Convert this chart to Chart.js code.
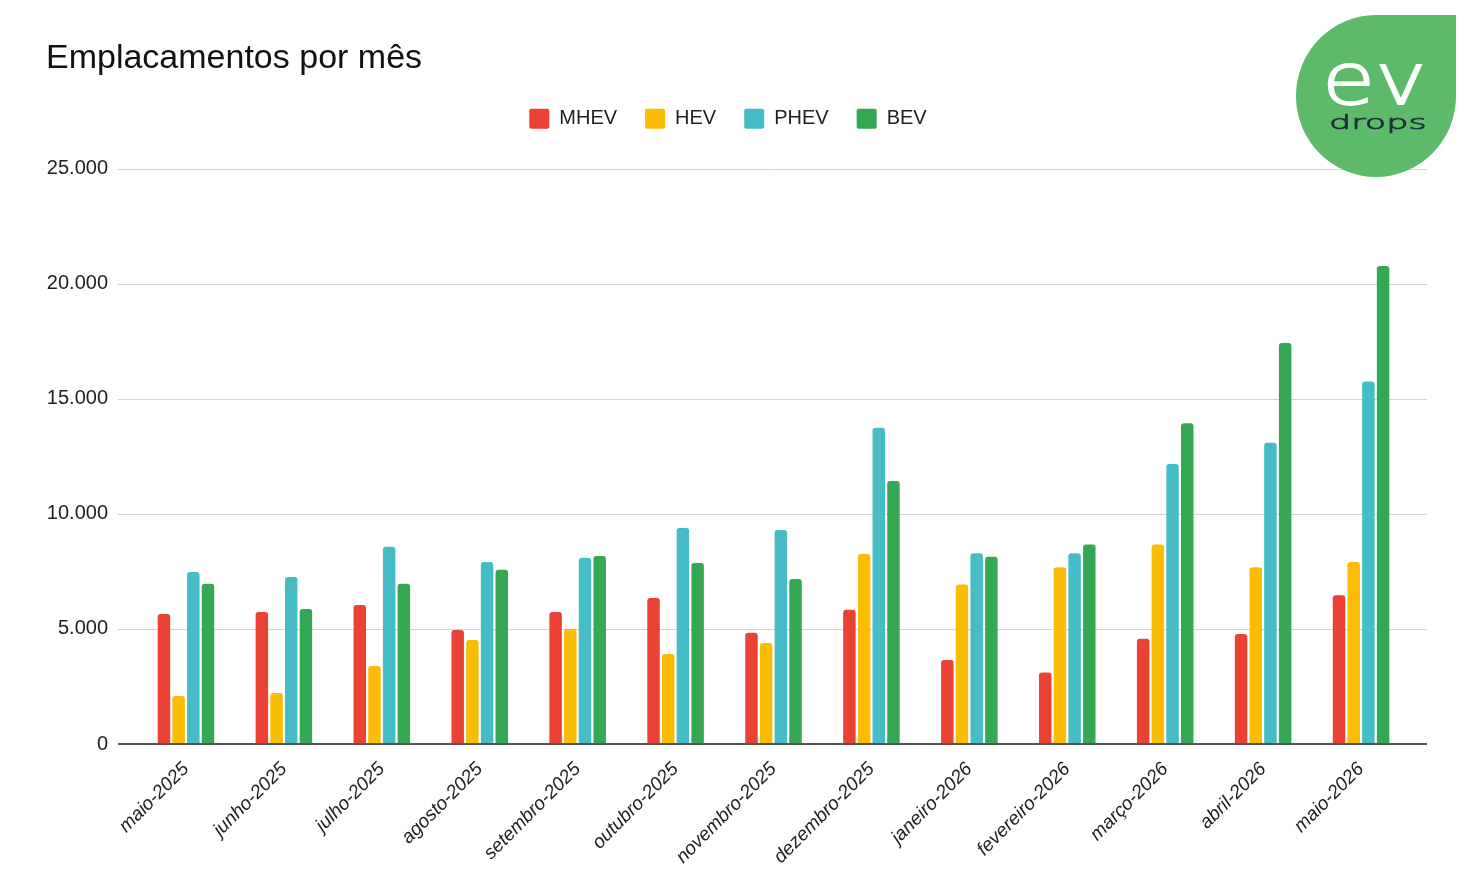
<!DOCTYPE html>
<html>
<head>
<meta charset="utf-8">
<script src="https://cdn.jsdelivr.net/npm/chart.js@4.4.1/dist/chart.umd.min.js"></script>
<style>
  body { margin: 0; background: #fff; }
  #wrap { position: relative; width: 1470px; height: 885px; }
  #logo {
    position: absolute; left: 1296px; top: 15px; width: 160px; height: 162px;
    background: #5cba6a; border-radius: 50% 0 50% 50%; overflow: hidden;
  }
  #logo span { position: absolute; display: block; line-height: 1; white-space: nowrap; transform-origin: 0 0; }
  #logo .ev {
    left: 26px; top: 22px;
    font: 200 72px "DejaVu Sans", sans-serif; color: #fff; transform: scaleX(1.2);
    -webkit-text-stroke: 1.8px #fff;
  }
  #logo .drops {
    left: 33px; top: 95px;
    font: 200 20px "DejaVu Sans", sans-serif; color: #1d2b3a; transform: scaleX(1.75);
    -webkit-text-stroke: 0.7px #1d2b3a;
  }
</style>
</head>
<body>
<div id="wrap">
  <canvas id="chart" width="1470" height="885"></canvas>
  <div id="logo"><span class="ev">ev</span><span class="drops">drops</span></div>
</div>
<script>
var months = ['maio-2025', 'junho-2025', 'julho-2025', 'agosto-2025', 'setembro-2025', 'outubro-2025',
  'novembro-2025', 'dezembro-2025', 'janeiro-2026', 'fevereiro-2026', 'março-2026', 'abril-2026', 'maio-2026'];

var mhev = [5650, 5740, 6040, 4960, 5740, 6350, 4830, 5830, 3650, 3110, 4570, 4780, 6460];
var hev  = [2090, 2220, 3390, 4520, 5000, 3910, 4390, 8260, 6930, 7680, 8670, 7680, 7910];
var phev = [7480, 7260, 8570, 7910, 8090, 9390, 9300, 13740, 8290, 8290, 12170, 13090, 15750];
var bev  = [6960, 5870, 6960, 7570, 8170, 7870, 7170, 11430, 8140, 8670, 13940, 17430, 20780];

var yTicks = [0, 5000, 10000, 15000, 20000, 25000];

function fmt(v) {
  return String(v).replace(/\B(?=(\d{3})+(?!\d))/g, '.');
}

Chart.defaults.font.family = '"Liberation Sans", Arial, sans-serif';
Chart.defaults.color = '#222';

// google sheets style gridlines: a bit wider than the plot area
var sheetGrid = {
  id: 'sheetGrid',
  beforeDatasetsDraw: function(chart) {
    var ctx = chart.ctx, y = chart.scales.y, a = chart.chartArea;
    ctx.save();
    ctx.strokeStyle = '#d4d4d4';
    ctx.lineWidth = 1;
    yTicks.forEach(function(v) {
      if (v === 0) return;
      var py = Math.round(y.getPixelForValue(v)) + 0.5;
      ctx.beginPath();
      ctx.moveTo(a.left - 19, py);
      ctx.lineTo(a.right + 17, py);
      ctx.stroke();
    });
    ctx.restore();
  },
  afterDatasetsDraw: function(chart) {
    var ctx = chart.ctx, y = chart.scales.y, a = chart.chartArea;
    var py = Math.round(y.getPixelForValue(0));
    ctx.save();
    ctx.strokeStyle = '#555';
    ctx.lineWidth = 2;
    ctx.beginPath();
    ctx.moveTo(a.left - 19, py);
    ctx.lineTo(a.right + 17, py);
    ctx.stroke();
    ctx.restore();
  }
};

// extra room between the legend and the plot
var legendGap = {
  id: 'legendGap',
  afterInit: function(chart) {
    var fit = chart.legend.fit;
    chart.legend.fit = function() {
      fit.apply(this, arguments);
      this.height += 30;
    };
  }
};

function ds(label, data, color) {
  return {
    label: label,
    data: data,
    backgroundColor: color,
    borderWidth: 0,
    borderRadius: 3,
    categoryPercentage: 0.6,
    barPercentage: 0.85
  };
}

new Chart(document.getElementById('chart'), {
  type: 'bar',
  data: {
    labels: months,
    datasets: [
      ds('MHEV', mhev, '#ea4335'),
      ds('HEV', hev, '#fbbc04'),
      ds('PHEV', phev, '#46bdc6'),
      ds('BEV', bev, '#34a853')
    ]
  },
  options: {
    responsive: false,
    animation: false,
    layout: { padding: { left: 46, right: 60, top: 0, bottom: 0 } },
    plugins: {
      title: {
        display: true,
        text: 'Emplacamentos por mês',
        align: 'start',
        color: '#111',
        font: { size: 34, weight: 'normal' },
        padding: { top: 38, bottom: 2 }
      },
      legend: {
        display: true,
        position: 'top',
        labels: {
          boxWidth: 20,
          boxHeight: 20,
          useBorderRadius: true,
          borderRadius: 2,
          padding: 28,
          color: '#222',
          font: { size: 20 }
        }
      },
      tooltip: { enabled: false }
    },
    scales: {
      x: {
        grid: { display: false },
        border: { display: false },
        ticks: {
          autoSkip: false,
          minRotation: 45,
          maxRotation: 45,
          padding: 6,
          color: '#222',
          font: { size: 19, style: 'italic' }
        },
        afterFit: function(s) { s.height = 141; }
      },
      y: {
        min: 0,
        max: 25000,
        grid: { display: false, drawTicks: false },
        border: { display: false },
        ticks: {
          padding: 29,
          color: '#222',
          font: { size: 20 },
          callback: function(v) { return fmt(v); }
        },
        afterBuildTicks: function(s) {
          s.ticks = yTicks.map(function(v) { return { value: v }; });
        },
        afterFit: function(s) { s.width = 91; }
      }
    }
  },
  plugins: [sheetGrid, legendGap]
});
</script>
</body>
</html>
